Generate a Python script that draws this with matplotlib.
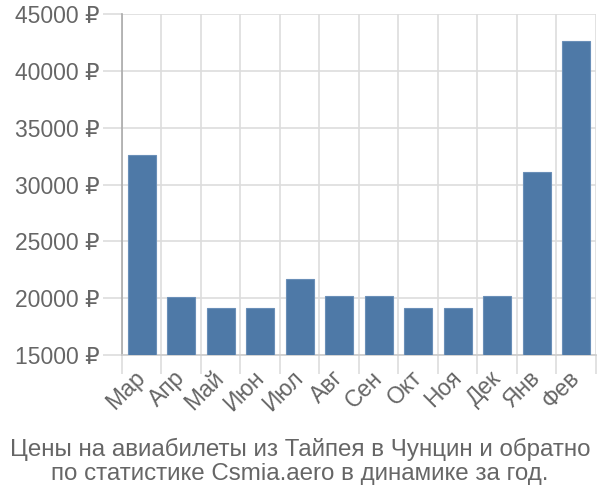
import matplotlib
matplotlib.use("Agg")
import matplotlib.pyplot as plt
import numpy as np

plt.rcParams['font.family'] = ['Liberation Sans', 'DejaVu Sans']

months = ["Мар", "Апр", "Май", "Июн", "Июл", "Авг", "Сен", "Окт", "Ноя", "Дек", "Янв", "Фев"]
prices = [32600, 20080, 19120, 19120, 21670, 20180, 20180, 19120, 19120, 20180, 31080, 42650]
yticks = [15000, 20000, 25000, 30000, 35000, 40000, 45000]
title = "Цены на авиабилеты из Тайпея в Чунцин и обратно\nпо статистике Csmia.aero в динамике за год."

text_color = "#666666"
grid_color = "#dddddd"
bar_color = "#4e79a7"

fig = plt.figure(figsize=(6, 5), dpi=100)
ax = fig.add_axes([0.2033, 0.29, 0.79, 0.682])

x = np.arange(len(months))
ax.bar(x, prices, width=0.71, color=bar_color, edgecolor="#6a8fb8", linewidth=0.8, zorder=3)

ax.set_ylim(15000, 45000)
ax.set_xlim(-0.5, len(months) - 0.5)
ax.set_yticks(yticks)
ax.set_yticklabels([f"{v} ₽" for v in yticks])
ax.set_xticks(x)
ax.set_xticklabels(months, rotation=45, ha="right", va="center", rotation_mode="anchor")
ax.set_xticks(np.arange(-0.5, len(months), 1.0), minor=True)

ax.tick_params(axis="y", which="major", length=14, color=grid_color, width=1.2,
               labelsize=16.5, labelcolor=text_color, pad=2)
ax.tick_params(axis="x", which="major", length=0, labelsize=16.5, labelcolor=text_color, pad=14)
ax.tick_params(axis="x", which="minor", length=14, color=grid_color, width=1.2)

ax.grid(True, axis="y", which="major", color=grid_color, linewidth=1.2, zorder=0)
ax.grid(True, axis="x", which="minor", color=grid_color, linewidth=1.2, zorder=0)
ax.set_axisbelow(True)

for s in ["top", "right"]:
    ax.spines[s].set_visible(False)
ax.spines["bottom"].set_color("#cccccc")
ax.spines["bottom"].set_linewidth(1.2)
ax.spines["left"].set_color("#aaaaaa")
ax.spines["left"].set_linewidth(1.2)

fig.text(0.5, 0.078, title, ha="center", va="center", fontsize=17.4, color=text_color,
         linespacing=1.12)

fig.savefig("out.png", dpi=100)
